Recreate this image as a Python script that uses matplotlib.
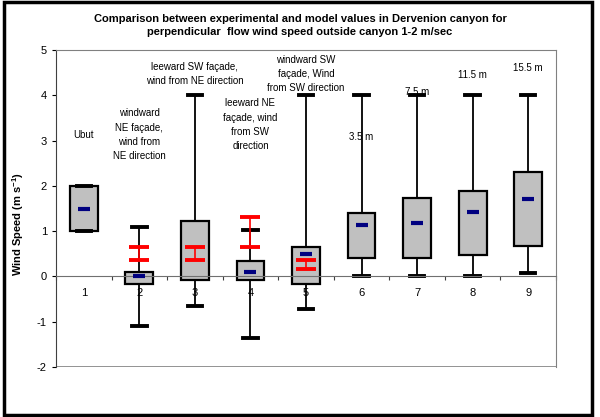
import numpy as np
import matplotlib.pyplot as plt
from matplotlib.patches import Rectangle

plt.rcParams['font.family'] = ['Liberation Sans', 'DejaVu Sans']
plt.rcParams['axes.unicode_minus'] = False

# box statistics per location (m/s)
positions = [1, 2, 3, 4, 5, 6, 7, 8, 9]
whis_lo = [1.0, -1.1, -0.65, -1.35, -0.72, 0.0, 0.0, 0.0, 0.07]
q1 = [1.0, -0.16, -0.09, -0.08, -0.16, 0.41, 0.41, 0.48, 0.68]
q3 = [2.0, 0.10, 1.22, 0.33, 0.66, 1.40, 1.73, 1.89, 2.31]
whis_hi = [2.0, 1.1, 4.0, 1.03, 4.0, 4.0, 4.0, 4.0, 4.0]
means = [1.5, 0.0, np.nan, 0.10, 0.49, 1.14, 1.18, 1.43, 1.71]

# model range (red bars)
model_pos = [2, 3, 4, 5]
model_lo = [0.36, 0.36, 0.66, 0.17]
model_hi = [0.66, 0.66, 1.32, 0.37]

labels = ['Ubut',
          'windward\nNE façade,\nwind from\nNE direction',
          'leeward SW façade,\nwind from NE direction',
          'leeward NE\nfaçade, wind\nfrom SW\ndirection',
          'windward SW\nfaçade, Wind\nfrom SW direction',
          '3.5 m', '7.5 m', '11.5 m', '15.5 m']
label_y = [3.13, 3.13, 4.47, 3.35, 4.47, 3.08, 4.07, 4.45, 4.6]

fig = plt.figure(figsize=(6.0, 4.17), dpi=100)
ax = fig.add_axes([0.0933, 0.12, 0.8334, 0.76])

stats = []
for i in range(len(positions)):
    stats.append(dict(whislo=whis_lo[i], q1=q1[i], med=means[i], q3=q3[i],
                      whishi=whis_hi[i], mean=means[i], fliers=[]))

ax.bxp(stats, positions=positions, widths=0.5, capwidths=0.26,
       showmeans=False, showfliers=False, patch_artist=True,
       boxprops=dict(facecolor='#c0c0c0', edgecolor='black', linewidth=1.6),
       whiskerprops=dict(color='black', linewidth=1.3),
       capprops=dict(color='black', linewidth=2.8),
       medianprops=dict(linewidth=0), zorder=2)

ax.plot(positions, means, ls='none', marker='_', ms=8, mew=3,
        color='#000080', zorder=4)

mid = [(a + b) / 2 for a, b in zip(model_lo, model_hi)]
err = [(b - a) / 2 for a, b in zip(model_lo, model_hi)]
ax.errorbar(model_pos, mid, yerr=err, fmt='none', ecolor='red',
            elinewidth=1.2, capsize=7, capthick=2.8, zorder=5)

for x, y, t in zip(positions, label_y, labels):
    ax.text(x, y, t, ha='center', va='center', fontsize=7,
            linespacing=1.55)

ax.set_xlim(0.5, 9.5)
ax.set_ylim(-2, 5)
ax.set_yticks(range(-2, 6))
ax.tick_params(axis='y', labelsize=8, length=3, width=0.8, direction='out')

# category axis crosses at zero
ax.spines['bottom'].set_position(('data', 0))
ax.spines['bottom'].set_color('#707070')
ax.set_xticks(positions)
ax.set_xticklabels([str(p) for p in positions])
ax.set_xticks(np.arange(0.5, 10, 1), minor=True)
ax.tick_params(axis='x', which='major', length=0, labelsize=8, pad=8)
ax.tick_params(axis='x', which='minor', length=3, width=0.8,
               direction='out', color='#404040')
ax.axhline(-2, color='#808080', lw=1.2, zorder=1)
ax.spines['top'].set_color('#808080')
ax.spines['right'].set_color('#808080')
ax.spines['left'].set_color('#404040')

fig.text(0.03, 0.463, 'Wind Speed (m s$^{\\mathregular{-1}}$)', rotation=90,
         ha='center', va='center', fontsize=8, fontweight='bold')
fig.text(0.5, 0.939,
         'Comparison between experimental and model values in Dervenion canyon for\n'
         'perpendicular  flow wind speed outside canyon 1-2 m/sec',
         ha='center', va='center', fontsize=8, fontweight='bold',
         linespacing=1.45)

fig.patches.append(Rectangle((0.006, 0.004), 0.98, 0.992,
                             transform=fig.transFigure, fill=False,
                             edgecolor='black', linewidth=2.5))

fig.savefig('out.png', dpi=100)
